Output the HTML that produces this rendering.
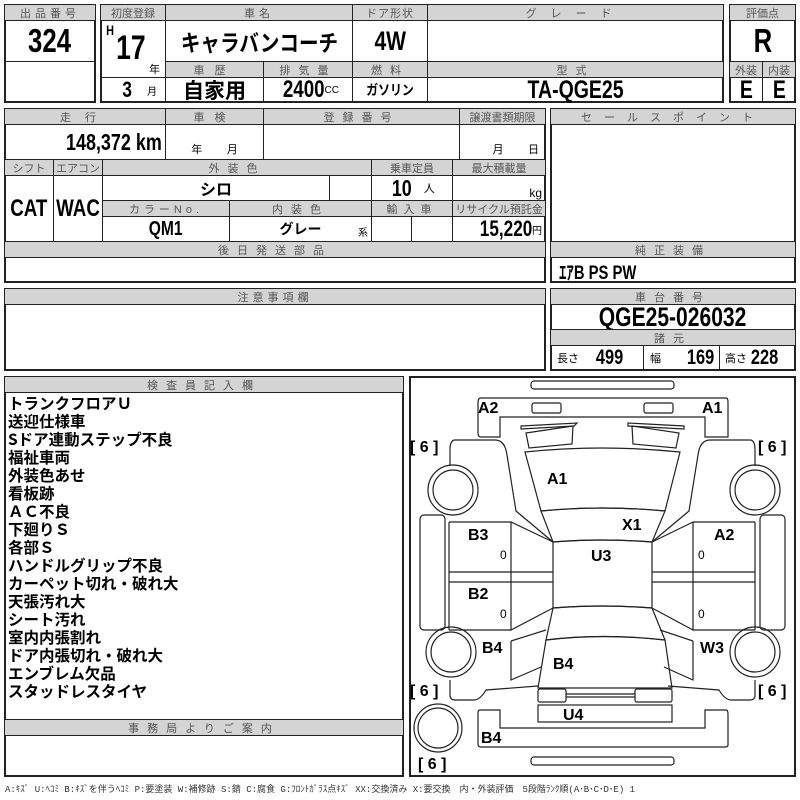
<!DOCTYPE html>
<html><head><meta charset="utf-8"><style>
*{margin:0;padding:0;box-sizing:border-box}
body{width:800px;height:800px;background:#fff;position:relative;overflow:hidden;font-family:"Liberation Sans","Noto Sans CJK JP",sans-serif;color:#000}
.c{position:absolute;border:1px solid #222;display:flex;align-items:center;justify-content:center;white-space:nowrap}
.h{background:#d4d4d4;font-size:11px;letter-spacing:4px;color:#555;height:17px}
.v{font-weight:bold;font-family:"Liberation Sans","Noto Sans CJK JP",sans-serif}
.n{display:inline-block;transform:scaleX(.78)}
.o{position:absolute;border:2px solid #222}
.list{position:absolute;left:8px;top:394px;font-size:15.5px;font-weight:bold;line-height:18px;font-family:"Noto Sans CJK JP",sans-serif}
</style></head><body>

<div class="o" style="left:4px;top:4px;width:92px;height:99px"></div>
<div class="c h" style="left:4px;top:4px;width:92px">出品番号</div>
<div class="c v" style="left:4px;top:20px;width:92px;height:42px;font-size:33px"><span class="n">324</span></div>
<div class="c" style="left:4px;top:61px;width:92px;height:42px"></div>

<div class="o" style="left:100px;top:4px;width:624px;height:99px"></div>
<div class="c h" style="left:100px;top:4px;width:66px;letter-spacing:0">初度登録</div>
<div class="c h" style="left:165px;top:4px;width:188px">車名</div>
<div class="c h" style="left:352px;top:4px;width:76px;letter-spacing:1px">ドア形状</div>
<div class="c h" style="left:427px;top:4px;width:297px;letter-spacing:14px">グレード</div>
<div class="c" style="left:100px;top:20px;width:66px;height:58px"></div>
<div class="v" style="position:absolute;left:105px;top:22px;font-size:14px"><span class="n">H</span></div>
<div class="v" style="position:absolute;left:112px;top:29px;font-size:34px"><span class="n">17</span></div>
<div style="position:absolute;left:149px;top:61px;font-size:11px">年</div>
<div class="c" style="left:100px;top:77px;width:66px;height:26px;justify-content:flex-end;padding-right:8px"><span class="v n" style="font-size:22px">3</span>&nbsp;&nbsp;&nbsp;<span style="font-size:10px">月</span></div>
<div class="c v" style="left:165px;top:20px;width:188px;height:42px;font-size:23px;font-family:'Noto Sans CJK JP',sans-serif"><span class="n" style="transform:scaleX(.85)">キャラバンコーチ</span></div>
<div class="c v" style="left:352px;top:20px;width:76px;height:42px;font-size:27px"><span class="n">4W</span></div>
<div class="c" style="left:427px;top:20px;width:297px;height:42px"></div>
<div class="c h" style="left:165px;top:61px;width:99px;letter-spacing:10px">車歴</div>
<div class="c h" style="left:263px;top:61px;width:90px;letter-spacing:8px">排気量</div>
<div class="c h" style="left:352px;top:61px;width:76px;letter-spacing:8px">燃料</div>
<div class="c h" style="left:427px;top:61px;width:297px;letter-spacing:8px">型式</div>
<div class="c v" style="left:165px;top:77px;width:99px;height:26px;font-size:21px;font-family:'Noto Sans CJK JP',sans-serif">自家用</div>
<div class="c" style="left:263px;top:77px;width:90px;height:26px"><span class="v n" style="font-size:24px;margin-right:-6px">2400</span><span style="font-size:10px">CC</span></div>
<div class="c v" style="left:352px;top:77px;width:76px;height:26px;font-size:14px;font-family:'Noto Sans CJK JP',sans-serif"><span class="n" style="transform:scaleX(.85)">ガソリン</span></div>
<div class="c v" style="left:427px;top:77px;width:297px;height:26px;font-size:25px"><span class="n">TA-QGE25</span></div>

<div class="o" style="left:729px;top:4px;width:67px;height:99px"></div>
<div class="c h" style="left:729px;top:4px;width:67px;letter-spacing:0">評価点</div>
<div class="c v" style="left:729px;top:20px;width:67px;height:42px;font-size:33px"><span class="n">R</span></div>
<div class="c h" style="left:729px;top:61px;width:34px;letter-spacing:0">外装</div>
<div class="c h" style="left:762px;top:61px;width:34px;letter-spacing:0">内装</div>
<div class="c v" style="left:729px;top:77px;width:34px;height:26px;font-size:25px"><span class="n">E</span></div>
<div class="c v" style="left:762px;top:77px;width:34px;height:26px;font-size:25px"><span class="n">E</span></div>

<div class="o" style="left:4px;top:108px;width:542px;height:175px"></div>
<div class="c h" style="left:4px;top:108px;width:162px;letter-spacing:14px">走行</div>
<div class="c h" style="left:165px;top:108px;width:99px;letter-spacing:10px">車検</div>
<div class="c h" style="left:263px;top:108px;width:197px;letter-spacing:8px">登録番号</div>
<div class="c h" style="left:459px;top:108px;width:87px;letter-spacing:0">譲渡書類期限</div>
<div class="c" style="left:4px;top:124px;width:162px;height:36px;justify-content:flex-end;padding-right:3px"><span class="v n" style="font-size:23px;transform-origin:right">148,372 km</span></div>
<div class="c" style="left:165px;top:124px;width:99px;height:36px;align-items:flex-end;font-size:11px;padding-bottom:2px">年&nbsp;&nbsp;&nbsp;&nbsp;&nbsp;&nbsp;&nbsp;&nbsp;月</div>
<div class="c" style="left:263px;top:124px;width:197px;height:36px"></div>
<div class="c" style="left:459px;top:124px;width:87px;height:36px;align-items:flex-end;font-size:11px;padding-bottom:2px;justify-content:flex-end;padding-right:6px">月&nbsp;&nbsp;&nbsp;&nbsp;&nbsp;&nbsp;&nbsp;&nbsp;日</div>
<div class="c h" style="left:4px;top:159px;width:50px;letter-spacing:0">シフト</div>
<div class="c h" style="left:53px;top:159px;width:50px;letter-spacing:0">エアコン</div>
<div class="c h" style="left:102px;top:159px;width:270px;letter-spacing:8px">外装色</div>
<div class="c h" style="left:371px;top:159px;width:82px;letter-spacing:0">乗車定員</div>
<div class="c h" style="left:452px;top:159px;width:94px;letter-spacing:0">最大積載量</div>
<div class="c v" style="left:4px;top:175px;width:50px;height:67px;font-size:24px"><span class="n">CAT</span></div>
<div class="c v" style="left:53px;top:175px;width:50px;height:67px;font-size:24px"><span class="n">WAC</span></div>
<div class="c v" style="left:102px;top:175px;width:228px;height:26px;font-size:16px;font-family:'Noto Sans CJK JP',sans-serif">シロ</div>
<div class="c" style="left:329px;top:175px;width:43px;height:26px"></div>
<div class="c" style="left:371px;top:175px;width:82px;height:26px"><span class="v n" style="font-size:23px">10</span>&nbsp;&nbsp;<span style="font-size:11px">人</span></div>
<div class="c" style="left:452px;top:175px;width:94px;height:26px;justify-content:flex-end;padding-right:3px;align-items:flex-end;font-size:12px">kg</div>
<div class="c h" style="left:102px;top:200px;width:128px">カラーNo.</div>
<div class="c h" style="left:229px;top:200px;width:143px;letter-spacing:8px">内装色</div>
<div class="c h" style="left:371px;top:200px;width:82px;letter-spacing:6px">輸入車</div>
<div class="c h" style="left:452px;top:200px;width:94px;letter-spacing:0">リサイクル預託金</div>
<div class="c v" style="left:102px;top:216px;width:128px;height:26px;font-size:20px"><span class="n">QM1</span></div>
<div class="c" style="left:229px;top:216px;width:143px;height:26px"><span class="v" style="font-size:14px;font-family:'Noto Sans CJK JP',sans-serif">グレー</span><span style="position:absolute;right:3px;bottom:2px;font-size:10px">系</span></div>
<div class="c" style="left:371px;top:216px;width:41px;height:26px"></div>
<div class="c" style="left:411px;top:216px;width:42px;height:26px"></div>
<div class="c" style="left:452px;top:216px;width:94px;height:26px;justify-content:flex-end;padding-right:3px"><span class="v n" style="font-size:22px;transform-origin:right">15,220</span><span style="font-size:10px">円</span></div>
<div class="c h" style="left:4px;top:241px;width:542px;letter-spacing:8px">後日発送部品</div>

<div class="o" style="left:550px;top:108px;width:246px;height:175px"></div>
<div class="c h" style="left:550px;top:108px;width:246px;letter-spacing:12px">セールスポイント</div>
<div class="c h" style="left:550px;top:241px;width:246px;letter-spacing:8px">純正装備</div>
<div class="v" style="position:absolute;left:559px;top:258px;font-size:19px"><span class="n" style="transform-origin:left">ｴｱB PS PW</span></div>

<div class="o" style="left:4px;top:288px;width:542px;height:83px"></div>
<div class="c h" style="left:4px;top:288px;width:542px;letter-spacing:4px">注意事項欄</div>

<div class="o" style="left:550px;top:288px;width:246px;height:83px"></div>
<div class="c h" style="left:550px;top:288px;width:246px;letter-spacing:8px">車台番号</div>
<div class="c v" style="left:550px;top:304px;width:246px;height:26px;font-size:27px"><span class="n">QGE25-026032</span></div>
<div class="c h" style="left:550px;top:329px;width:246px;letter-spacing:8px">諸元</div>
<div class="c" style="left:550px;top:345px;width:94px;height:26px;justify-content:flex-start;padding-left:6px"><span style="font-size:11px">長さ</span>&nbsp;&nbsp;&nbsp;<span class="v n" style="font-size:21px">499</span></div>
<div class="c" style="left:643px;top:345px;width:77px;height:26px;justify-content:flex-start;padding-left:6px"><span style="font-size:11px">幅</span>&nbsp;&nbsp;&nbsp;&nbsp;&nbsp;<span class="v n" style="font-size:21px">169</span></div>
<div class="c" style="left:719px;top:345px;width:77px;height:26px;justify-content:flex-start;padding-left:5px"><span style="font-size:11px">高さ</span><span class="v n" style="font-size:21px">228</span></div>

<div class="o" style="left:4px;top:376px;width:400px;height:401px"></div>
<div class="c h" style="left:4px;top:376px;width:400px;letter-spacing:8px">検査員記入欄</div>
<div class="list">トランクフロアＵ<br>送迎仕様車<br>Sドア連動ステップ不良<br>福祉車両<br>外装色あせ<br>看板跡<br>ＡＣ不良<br>下廻りＳ<br>各部Ｓ<br>ハンドルグリップ不良<br>カーペット切れ・破れ大<br>天張汚れ大<br>シート汚れ<br>室内内張割れ<br>ドア内張切れ・破れ大<br>エンブレム欠品<br>スタッドレスタイヤ</div>
<div class="c h" style="left:4px;top:719px;width:400px;letter-spacing:8px">事務局よりご案内</div>

<div class="o" style="left:409px;top:376px;width:387px;height:401px"></div>
<svg style="position:absolute;left:0;top:0" width="800" height="800" fill="none" stroke="#222" stroke-width="1.2">
<rect x="531" y="381" width="143" height="8" rx="3"/>
<path d="M481 398 H726 Q728 398 728 402 V437 H705 V417 H500 V437 H481 Q478 437 478 433 V402 Q478 398 481 398Z"/>
<rect x="532" y="403" width="29" height="10" rx="2"/>
<rect x="644" y="403" width="29" height="10" rx="2"/>
<path d="M521 426 L577 423 L574 426 L521 429Z"/>
<path d="M526 433 L573 426 L572 444 L529 448Z"/>
<path d="M628 426 L684 429 L684 426 L628 423Z"/>
<path d="M632 426 L679 433 L676 448 L633 444Z"/>
<path d="M525 452 Q602 444 680 452 L665 511 Q602 505 541 511Z"/>
<path d="M541 511 Q602 505 665 511 L652 542 Q602 538 553 542Z"/>
<path d="M553 542 Q602 538 652 542 V608 Q602 604 553 608Z"/>
<path d="M553 608 Q602 604 652 608 L665 640 Q602 633 546 640Z"/>
<path d="M546 640 Q602 633 665 640 L672 688 H538Z"/>
<rect x="538" y="689" width="28" height="13" rx="2"/>
<rect x="635" y="689" width="37" height="13" rx="2"/>
<path d="M566 694 H635 M566 697 H635"/>
<rect x="538" y="705" width="134" height="17"/>
<path d="M480 710 H500 V728 H705 V710 H726 Q728 710 728 714 V745 Q728 747 725 747 H481 Q478 747 478 744 V713 Q478 710 480 710Z"/>
<rect x="531" y="757" width="143" height="8" rx="3"/>
<path d="M455 440 H495 Q505 440 507 455 L516 511 L553 542 M455 440 Q450 440 450 450 V466"/>
<path d="M750 440 H710 Q700 440 698 455 L689 511 L652 542 M750 440 Q755 440 755 450 V466"/>
<path d="M449 522 H511 L553 542 M511 522 V630 L553 608"/>
<path d="M693 522 H755 M693 522 L652 542 M693 522 V630 L652 608 M755 522 V630"/>
<path d="M449 522 V630 M449 572 H553 M449 582 H553 M449 630 H511"/>
<path d="M652 572 H755 M652 582 H755 M693 630 H755"/>
<rect x="420" y="515" width="25" height="115" rx="4"/>
<rect x="760" y="515" width="25" height="115" rx="4"/>
<path d="M511 641 L546 630 M511 641 V680 L541 667 M450 680 V695 Q450 700 455 700 H474 Q480 700 486 690 L538 686"/>
<path d="M693 641 L660 630 M693 641 V680 L664 667 M755 680 V695 Q755 700 750 700 H731 Q725 700 719 690 L668 686"/>
<circle cx="453" cy="490" r="25"/><circle cx="453" cy="490" r="20"/>
<circle cx="755" cy="490" r="25"/><circle cx="755" cy="490" r="20"/>
<circle cx="451" cy="652" r="25"/><circle cx="451" cy="652" r="20"/>
<circle cx="755" cy="652" r="25"/><circle cx="755" cy="652" r="20"/>
<circle cx="438" cy="728" r="24"/><circle cx="438" cy="728" r="20"/>
</svg>
<div style="position:absolute;font-weight:bold;font-size:16px;font-family:'Liberation Sans',sans-serif">
<span style="position:absolute;left:478px;top:400px">A2</span>
<span style="position:absolute;left:702px;top:400px">A1</span>
<span style="position:absolute;left:547px;top:471px">A1</span>
<span style="position:absolute;left:622px;top:517px">X1</span>
<span style="position:absolute;left:468px;top:527px">B3</span>
<span style="position:absolute;left:714px;top:527px">A2</span>
<span style="position:absolute;left:591px;top:548px">U3</span>
<span style="position:absolute;left:468px;top:586px">B2</span>
<span style="position:absolute;left:482px;top:640px">B4</span>
<span style="position:absolute;left:700px;top:640px">W3</span>
<span style="position:absolute;left:553px;top:656px">B4</span>
<span style="position:absolute;left:563px;top:707px">U4</span>
<span style="position:absolute;left:481px;top:730px">B4</span>
</div>
<div style="position:absolute;font-size:12px">
<span style="position:absolute;left:500px;top:548px">0</span><span style="position:absolute;left:500px;top:607px">0</span>
<span style="position:absolute;left:698px;top:548px">0</span><span style="position:absolute;left:698px;top:607px">0</span>
</div>
<div style="position:absolute;font-size:16px;font-weight:bold;white-space:pre">
<span style="position:absolute;left:410px;top:439px">[ 6 ]</span>
<span style="position:absolute;left:758px;top:439px">[ 6 ]</span>
<span style="position:absolute;left:410px;top:683px">[ 6 ]</span>
<span style="position:absolute;left:758px;top:683px">[ 6 ]</span>
<span style="position:absolute;left:418px;top:756px">[ 6 ]</span>
</div>
<div style="position:absolute;left:5px;top:782px;font-size:9px;color:#333;white-space:nowrap;font-family:'Liberation Mono','Noto Sans CJK JP',monospace">A:ｷｽﾞ U:ﾍｺﾐ B:ｷｽﾞを伴うﾍｺﾐ P:要塗装 W:補修跡 S:錆 C:腐食 G:ﾌﾛﾝﾄｶﾞﾗｽ点ｷｽﾞ XX:交換済み X:要交換　内・外装評価　5段階ﾗﾝｸ順(A･B･C･D･E) 1</div>
</body></html>
